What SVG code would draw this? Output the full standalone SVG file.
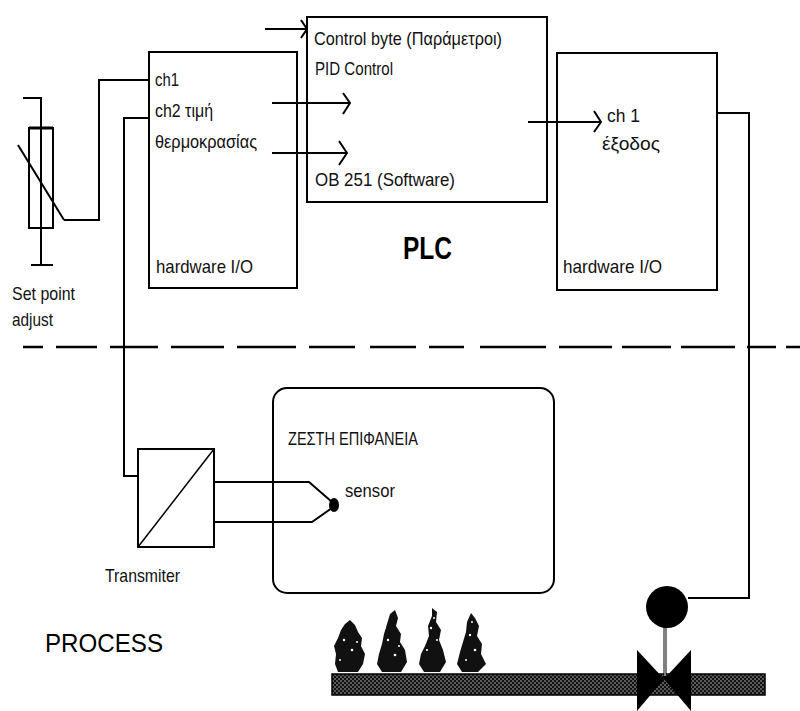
<svg xmlns="http://www.w3.org/2000/svg" width="800" height="711" viewBox="0 0 800 711">
  <style>
    .ln { fill: none; stroke: #000; stroke-width: 2; stroke-linejoin: miter; }
    .box { fill: #fff; stroke: #000; stroke-width: 2; }
    .t { font-family: "Liberation Sans", Arial, sans-serif; font-size: 19px; fill: #111; }
    .big { font-family: "Liberation Sans", Arial, sans-serif; fill: #000; }
    .plant { fill: #111; }
    .speck { fill: #fff; }
  </style>
  <defs>
    <pattern id="pipeFill" width="4" height="4" patternUnits="userSpaceOnUse">
      <rect width="4" height="4" fill="#111"/>
      <circle cx="1" cy="1" r="0.8" fill="#b8b8b8"/>
      <circle cx="3" cy="3" r="0.8" fill="#b8b8b8"/>
    </pattern>
  </defs>
  <rect width="800" height="711" fill="#fff"/>

  <!-- PLC side -->
  <g id="setpoint-pot">
    <rect x="29" y="128" width="24" height="100" class="box" fill="none"/>
    <line x1="29" y1="128" x2="53" y2="128" stroke="#000" stroke-width="3"/>
    <path class="ln" d="M23 98 H41 V265"/>
    <path class="ln" d="M31 265 H53"/>
    <path class="ln" d="M18 145 L64 220"/>
    <text class="t" x="12" y="300" textLength="63" lengthAdjust="spacingAndGlyphs">Set point</text>
    <text class="t" x="12" y="326" textLength="41" lengthAdjust="spacingAndGlyphs">adjust</text>
  </g>

  <g id="input-io">
    <rect x="149" y="52" width="148" height="236" class="box"/>
    <text class="t" x="155" y="86" textLength="24" lengthAdjust="spacingAndGlyphs">ch1</text>
    <text class="t" x="155" y="117" textLength="58" lengthAdjust="spacingAndGlyphs">ch2 τιμή</text>
    <text class="t" x="155" y="148" textLength="102" lengthAdjust="spacingAndGlyphs">θερμοκρασίας</text>
    <text class="t" x="156" y="273" textLength="97" lengthAdjust="spacingAndGlyphs">hardware I/O</text>
  </g>

  <g id="plc-software">
    <rect x="307" y="17" width="240" height="185" class="box"/>
    <text class="t" x="314" y="45" textLength="188" lengthAdjust="spacingAndGlyphs">Control byte (Παράμετροι)</text>
    <text class="t" x="315" y="75" textLength="78" lengthAdjust="spacingAndGlyphs">PID Control</text>
    <text class="t" x="315" y="186" textLength="140" lengthAdjust="spacingAndGlyphs">OB 251 (Software)</text>
  </g>

  <g id="output-io">
    <rect x="557" y="53" width="160" height="237" class="box"/>
    <text class="t" x="607" y="122" textLength="33" lengthAdjust="spacingAndGlyphs">ch 1</text>
    <text class="t" x="602" y="150" textLength="58" lengthAdjust="spacingAndGlyphs">έξοδος</text>
    <text class="t" x="563" y="273" textLength="99" lengthAdjust="spacingAndGlyphs">hardware I/O</text>
  </g>

  <text class="big" x="403" y="259" font-size="32" font-weight="bold" textLength="49" lengthAdjust="spacingAndGlyphs">PLC</text>

  <!-- boundary between control and process -->
  <path id="boundary" fill="none" stroke="#000" stroke-width="2.5"
        d="M23 347H43 M56 347H97 M110 347H158 M171 347H224 M237 347H296 M309 347H355 M370 347H416 M429 347H464 M480 347H546 M559 347H612 M622 347H671 M681 347H735 M747 347H776 M786 347H800"/>

  <!-- Process side -->
  <g id="transmitter">
    <rect x="138" y="449" width="76" height="98" class="box"/>
    <line x1="138" y1="547" x2="214" y2="449" stroke="#000" stroke-width="1.5"/>
    <text class="t" x="105" y="582" textLength="75" lengthAdjust="spacingAndGlyphs">Transmiter</text>
  </g>

  <g id="hot-surface">
    <rect x="273" y="388" width="281" height="205" rx="14" ry="14" class="box" fill="none"/>
    <text class="t" x="288" y="445" font-size="19" textLength="130" lengthAdjust="spacingAndGlyphs">ΖΕΣΤΗ ΕΠΙΦΑΝΕΙΑ</text>
  </g>

  <g id="sensor">
    <ellipse cx="334" cy="505" rx="5" ry="7" fill="#000"/>
    <text class="t" x="345" y="497" textLength="50" lengthAdjust="spacingAndGlyphs">sensor</text>
  </g>

  <g id="heater">
    <rect x="332" y="674" width="433" height="21" fill="url(#pipeFill)" stroke="#000" stroke-width="1.5"/>
    <!-- bushes -->
    <path class="plant" d="M338 672 L335 664 L336 654 L334 646 L338 638 L341 630 L345 624 L350 620 L355 625 L358 632 L362 638 L361 646 L365 654 L363 664 L358 672 Z"/>
    <path class="plant" d="M382 672 L377 664 L379 654 L382 644 L384 634 L387 624 L390 614 L395 610 L398 618 L396 626 L401 634 L400 642 L405 650 L407 662 L401 672 Z"/>
    <path class="plant" d="M424 672 L419 664 L421 654 L425 646 L429 636 L428 626 L432 616 L432 608 L437 612 L436 622 L441 630 L439 640 L443 650 L446 662 L440 672 Z"/>
    <path class="plant" d="M462 672 L457 664 L460 652 L463 642 L466 632 L467 622 L471 613 L475 618 L479 626 L477 636 L482 644 L481 654 L486 664 L478 672 Z"/>
    <g class="speck">
      <circle cx="344" cy="640" r="1.2"/><circle cx="352" cy="650" r="1.3"/><circle cx="340" cy="660" r="1"/><circle cx="357" cy="642" r="1"/>
      <circle cx="388" cy="640" r="1.2"/><circle cx="395" cy="655" r="1.3"/><circle cx="385" cy="628" r="1"/><circle cx="399" cy="646" r="1"/>
      <circle cx="431" cy="628" r="1.2"/><circle cx="427" cy="650" r="1.1"/><circle cx="437" cy="640" r="1"/><circle cx="434" cy="618" r="1"/>
      <circle cx="470" cy="635" r="1.2"/><circle cx="475" cy="650" r="1.3"/><circle cx="466" cy="660" r="1"/><circle cx="472" cy="622" r="1"/>
    </g>
  </g>

  <g id="valve">
    <path d="M637 650 L664 679 L637 711 Z M691 650 L664 679 L691 711 Z" fill="#000"/>
    <line x1="665" y1="625" x2="665" y2="680" stroke="#000" stroke-width="3"/>
    <line x1="665" y1="628" x2="665" y2="676" stroke="#fff" stroke-width="1"/>
    <circle cx="667" cy="607" r="21" fill="#000"/>
  </g>

  <text class="big" x="45" y="652" font-size="26" textLength="118" lengthAdjust="spacingAndGlyphs">PROCESS</text>

  <!-- signal wiring -->
  <g id="connectors" class="ln">
    <!-- set point to ch1 -->
    <path d="M64 220 H99 V80 H149"/>
    <!-- transmitter to ch2 -->
    <path d="M138 476 H124 V118 H149"/>
    <!-- control byte -->
    <path d="M265 29 H307 M301 20 L307 29 L301 38"/>
    <!-- inputs into PID block -->
    <path d="M272 103 H350 M343 93 L350 103 L343 114"/>
    <path d="M272 153 H347 M339 141 L347 153 L339 165"/>
    <!-- PID output to ch 1 -->
    <path d="M528 122 H601 M594 111 L601 122 L594 132"/>
    <!-- output to valve actuator -->
    <path d="M717 113 H749 V598 H688"/>
    <!-- thermocouple leads -->
    <path d="M214 482 H309 L332 502"/>
    <path d="M214 522 H312 L332 508"/>
  </g>
</svg>
